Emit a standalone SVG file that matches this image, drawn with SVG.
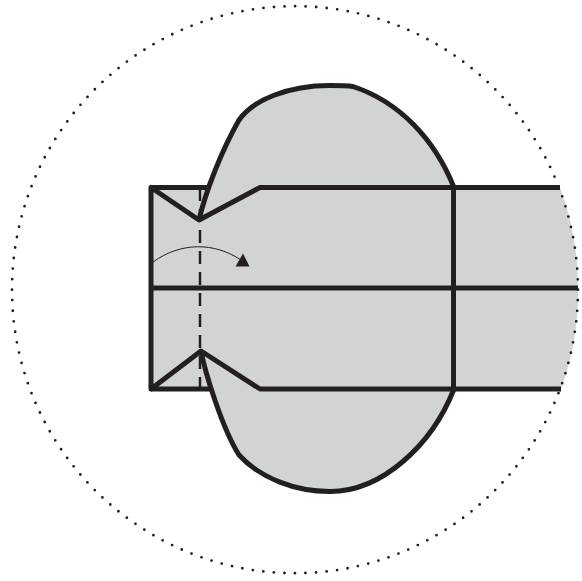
<svg xmlns="http://www.w3.org/2000/svg" width="582" height="581" viewBox="0 0 582 581">
<style>.k{fill:none;stroke:#231f20;stroke-width:5;stroke-linejoin:round}.f{fill:#d1d3d4}</style>
<rect width="582" height="581" fill="#fff"/>
<g id="paper">
<path class="f" d="M151 187.500H208C216 165 227 140 239 120C253 100 288 85.500 330 85.500C338 85.500 346 85.500 353 86.500C400 102 435 140 454 187.500H560A283 283 0 0 1 578 288A283 283 0 0 1 561 389H454C432 445 382 491.500 330 491.500C295 491.500 260 478 239 455C228 438 218 408 212 389H151Z"/>
</g>
<g id="lines">
<path class="k" d="M199 220C206 190 222 150 239 120C253 100 288 85.500 330 85.500C338 85.500 346 85.500 353 86.500C400 102 435 140 454 187.500"/>
<path class="k" d="M201 351C205 372 222 428 239 455C260 478 295 491.500 330 491.500C382 491.500 432 445 454 389"/>
<path class="k" d="M560 187.500H260L199 220L151 187.500V389L201 351L260 389H561"/>
<path class="k" d="M151 187.500H208M151 389H212M151 288H578M453.500 187.500V389"/>
<path d="M200 188V389" fill="none" stroke="#231f20" stroke-width="2.500" stroke-dasharray="13 8"/>
</g>
<g id="arrow">
<path d="M153 262C181 242 214 242 241 260" fill="none" stroke="#231f20" stroke-width="1"/>
<path d="M243 253.500L235.500 266.500H249.500Z" fill="#231f20"/>
</g>
<ellipse id="circle" cx="295" cy="289.700" rx="283" ry="283.500" fill="none" stroke="#231f20" stroke-width="2.800" stroke-dasharray="0 10.590" stroke-linecap="round"/>
</svg>
